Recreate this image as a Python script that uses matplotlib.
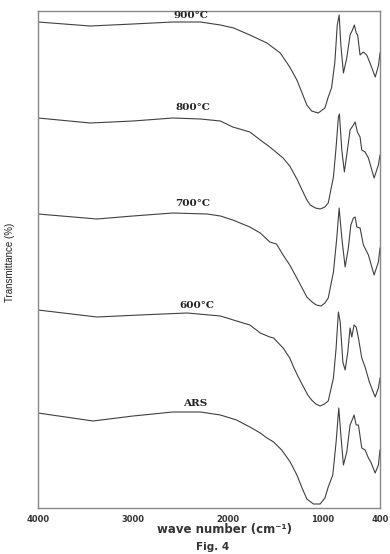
import matplotlib
matplotlib.use("Agg")
from matplotlib import pyplot as plt

# FTIR spectra (stacked, arbitrary transmittance units)
wn_900 = [4000, 3450, 3000, 2580, 2290, 2080, 1940, 1770, 1590, 1450,
          1350, 1275, 1220, 1170, 1120, 1050, 980, 945, 910, 875,
          850, 830, 812, 785, 750, 715, 690, 670, 650, 635,
          610, 575, 540, 505, 450, 415, 400]
t_900 = [486, 482, 484, 486, 486, 483, 480, 473, 465, 455,
         441, 428, 415, 403, 397, 395, 400, 411, 420, 446,
         483, 493, 463, 435, 450, 473, 478, 483, 475, 473,
         453, 456, 453, 445, 431, 443, 455]

wn_800 = [4000, 3450, 3000, 2580, 2290, 2080, 1950, 1770, 1660, 1560,
          1420, 1350, 1275, 1220, 1175, 1135, 1080, 1030, 980, 945,
          890, 862, 838, 827, 802, 775, 743, 715, 680, 662,
          638, 610, 592, 557, 522, 462, 417, 400]
t_800 = [390, 385, 387, 390, 389, 387, 381, 376, 368, 361,
         350, 342, 329, 318, 309, 303, 300, 299, 301, 305,
         331, 361, 391, 394, 358, 336, 358, 378, 383, 386,
         376, 371, 358, 356, 350, 330, 343, 353]

wn_700 = [4000, 3380, 3000, 2580, 2220, 2080, 1950, 1770, 1660, 1560,
          1490, 1420, 1350, 1270, 1220, 1170, 1115, 1070, 1020, 980,
          945, 890, 855, 830, 802, 767, 733, 707, 680, 662,
          644, 610, 575, 522, 462, 417, 400]
t_700 = [294, 289, 292, 295, 294, 292, 288, 281, 275, 266,
         264, 253, 243, 229, 220, 211, 206, 203, 202, 205,
         210, 236, 270, 300, 270, 241, 260, 283, 290, 291,
         281, 280, 263, 253, 233, 246, 260]

wn_600 = [4000, 3380, 2930, 2430, 2080, 1840, 1770, 1660, 1560, 1520,
          1420, 1350, 1310, 1260, 1205, 1160, 1120, 1075, 1030, 985,
          945, 890, 862, 838, 819, 791, 767, 739, 715, 697,
          673, 651, 627, 592, 557, 512, 451, 417, 400]
t_600 = [198, 191, 193, 195, 192, 185, 183, 175, 171, 170,
         160, 150, 141, 131, 121, 113, 108, 104, 102, 104,
         107, 130, 160, 196, 186, 146, 138, 156, 180, 171,
         183, 181, 170, 150, 141, 126, 111, 120, 130]

wn_ars = [4000, 3420, 3000, 2580, 2290, 2080, 1910, 1770, 1660, 1590,
          1520, 1435, 1345, 1275, 1220, 1170, 1100, 1030, 980, 945,
          897, 862, 834, 812, 785, 750, 715, 693, 673, 651,
          627, 592, 557, 522, 497, 451, 417, 400]
t_ars = [95, 87, 92, 96, 96, 93, 88, 81, 75, 70,
         66, 58, 46, 33, 20, 9, 4, 4, 10, 21,
         33, 66, 100, 73, 43, 56, 83, 88, 93, 83,
         83, 60, 58, 50, 46, 35, 43, 58]

series = [
    ("900°C", wn_900, t_900),
    ("800°C", wn_800, t_800),
    ("700°C", wn_700, t_700),
    ("600°C", wn_600, t_600),
    ("ARS", wn_ars, t_ars),
]
label_pos = [(2390, 492), (2368, 400), (2368, 304), (2326, 202), (2347, 104)]

fig = plt.figure(figsize=(3.9, 5.54), dpi=100)
ax = fig.add_axes([38 / 390, 46 / 554, 342 / 390, 497 / 554])

for (name, x, y), (lx, ly) in zip(series, label_pos):
    ax.plot(x, y, color="#404040", linewidth=0.8)
    ax.text(lx, ly, name, ha="center", va="center", fontsize=7.5,
            fontweight="bold", family="DejaVu Serif", color="#222222")

ax.set_xlim(4000, 400)
ax.set_ylim(0, 497)
ax.set_xticks([4000, 3000, 2000, 1000, 400])
ax.set_xticklabels(["4000", "3000", "2000", "1000", "400"])
ax.set_yticks([])
ax.tick_params(axis="x", length=0, pad=5, labelsize=6, colors="#333333")
for lbl in ax.get_xticklabels():
    lbl.set_fontweight("bold")
for sp in ax.spines.values():
    sp.set_color("#888888")
    sp.set_linewidth(1.0)

fig.text(10 / 390, 1 - 262 / 554, "Transmittance (%)", rotation=90,
         ha="center", va="center", fontsize=7, family="Liberation Sans",
         color="#222222")
fig.text(225 / 390, 1 - 529 / 554, "wave number (cm⁻¹)", ha="center",
         va="center", fontsize=8.5, fontweight="bold", color="#333333")
fig.text(213 / 390, 1 - 547 / 554, "Fig. 4", ha="center", va="center",
         fontsize=7.5, fontweight="bold", color="#333333")

fig.savefig("out.png", dpi=100)
